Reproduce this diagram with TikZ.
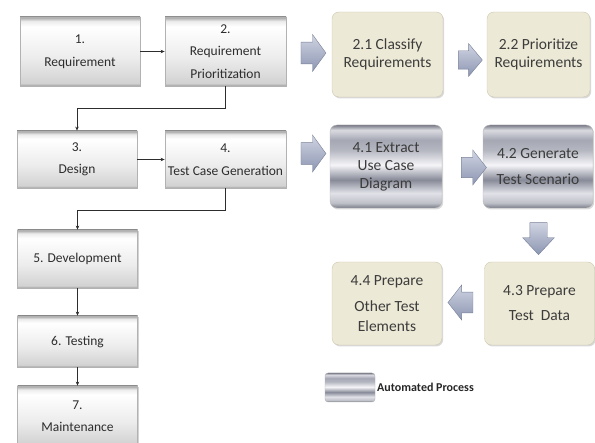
\documentclass[tikz,border=0pt]{standalone}
\usepackage{fontspec}
\setmainfont{Carlito}
\usetikzlibrary{shapes.arrows,shadows,arrows.meta}
\definecolor{txt}{RGB}{45,45,45}
\definecolor{rtxt}{RGB}{60,60,60}
\definecolor{beigefill}{RGB}{236,233,214}
\definecolor{beigeline}{RGB}{205,200,175}
\definecolor{lbA}{RGB}{160,160,160}
\definecolor{lbB}{RGB}{210,210,210}
\definecolor{lbC}{RGB}{236,236,236}
\definecolor{mA}{RGB}{120,122,135}
\definecolor{mB}{RGB}{190,192,200}
\definecolor{mC}{RGB}{225,226,232}
\definecolor{mD}{RGB}{135,138,152}
\definecolor{mE}{RGB}{245,245,248}
\definecolor{mF}{RGB}{180,182,192}
\definecolor{mG}{RGB}{165,167,180}
\definecolor{mH}{RGB}{218,219,225}
\definecolor{arD}{RGB}{140,150,178}
\definecolor{arL}{RGB}{208,212,226}
\definecolor{conn}{RGB}{45,45,45}
\pgfdeclareverticalshading{lboxshade}{100bp}{color(0bp)=(lbA); color(25bp)=(lbA); color(27bp)=(lbB); color(45bp)=(lbC); color(68bp)=(white); color(72bp)=(lbC); color(75bp)=(lbA); color(100bp)=(lbA)}
\pgfdeclareverticalshading{metal}{100bp}{color(0bp)=(mA); color(25bp)=(mA); color(28bp)=(mB); color(34bp)=(mC); color(42bp)=(mD); color(51bp)=(mE); color(60bp)=(mF); color(66bp)=(mG); color(72bp)=(mH); color(75bp)=(mA); color(100bp)=(mA)}
\tikzset{
  lbox/.style={rectangle, draw=gray!60, line width=0.8pt, shading=lboxshade,
    drop shadow={shadow xshift=1.2pt, shadow yshift=-1.5pt, opacity=0.35},
    align=center, text=txt, inner sep=0pt,
    font=\fontsize{13.5}{22.5}\selectfont},
  bbox/.style={rectangle, rounded corners=7pt, draw=beigeline, fill=beigefill,
    drop shadow={shadow xshift=1.2pt, shadow yshift=-1.5pt, opacity=0.3},
    align=center, text=rtxt, inner sep=0pt,
    font=\fontsize{15.5}{18}\selectfont},
  mbox/.style={rectangle, rounded corners=7pt, draw=gray!55, shading=metal,
    drop shadow={shadow xshift=1.2pt, shadow yshift=-1.5pt, opacity=0.3},
    align=center, text=rtxt, inner sep=0pt,
    font=\fontsize{15.5}{18}\selectfont},
  bigarrow/.style={single arrow, draw=arD!85!black, line width=0.4pt,
    top color=arL, bottom color=arD, inner xsep=0pt},
  conn/.style={draw=conn, line width=0.8pt, -{Stealth[length=4pt,width=3.5pt]}},
}
\begin{document}
\begin{tikzpicture}[x=1pt,y=-1pt]
\useasboundingbox (0,0) rectangle (595,443);
% left column
\node[lbox, minimum width=120pt, minimum height=69pt] (n1) at (80,51.5) {1.\\Requirement};
\node[lbox, minimum width=121pt, minimum height=69pt] (n2) at (225.5,51.5) {2.\\Requirement\\Prioritization};
\node[lbox, minimum width=120pt, minimum height=57pt] (n3) at (77,159.5) {3.\\Design};
\node[lbox, minimum width=121pt, minimum height=57pt] (n4) at (225.5,159.5) {4.\\Test Case Generation};
\node[lbox, minimum width=120pt, minimum height=58pt] (n5) at (77.5,259) {5. Development};
\node[lbox, minimum width=120pt, minimum height=51pt] (n6) at (77.5,341.5) {6. Testing};
\node[lbox, minimum width=120pt, minimum height=60pt] (n7) at (77.5,416) {7.\\Maintenance};
\draw[conn] (n1.east) -- (n2.west);
\draw[conn] (n3.east) -- (n4.west);
\draw[conn] (n2.south) -- ++(0,22) -| (n3.north);
\draw[conn] (n4.south) -- ++(0,22) -| (n5.north);
\draw[conn] (n5.south) -- (n6.north);
\draw[conn] (n6.south) -- (n7.north);
% right side
\node[bbox, minimum width=111pt, minimum height=85pt] (r21) at (387.5,54.5) {2.1 Classify\\Requirements};
\node[bbox, minimum width=103pt, minimum height=85pt] (r22) at (538.5,54.5) {2.2 Prioritize\\Requirements};
\node[mbox, minimum width=112pt, minimum height=83pt] (r41) at (386,166.5) {4.1 Extract\\Use Case\\Diagram};
\node[mbox, minimum width=110pt, minimum height=83pt] (r42) at (538,166.5) {4.2 Generate\\[8pt]Test Scenario};
\node[bbox, minimum width=110pt, minimum height=83pt] (r43) at (539.5,303.5) {4.3 Prepare\\[7pt]Test~~Data};
\node[bbox, minimum width=110pt, minimum height=83pt] (r44) at (387,303.5) {4.4 Prepare\\[8pt]Other Test\\[1.5pt]Elements};
% block arrows
\node[bigarrow, inner ysep=10pt, minimum height=25pt, minimum width=37pt, single arrow tip angle=108] (a1) at (309.5,53) {};
\node[bigarrow, inner ysep=9pt, minimum height=24pt, minimum width=31pt, single arrow tip angle=100] (a2) at (466.5,60) {};
\node[bigarrow, inner ysep=10pt, minimum height=25pt, minimum width=37pt, single arrow tip angle=108] (a3) at (309.5,153.5) {};
\node[bigarrow, inner ysep=9.5pt, minimum height=25pt, minimum width=35pt, single arrow tip angle=104] (a4) at (470,167.5) {};
\node[bigarrow, inner xsep=8.5pt, inner ysep=0pt, minimum height=32pt, minimum width=27pt, single arrow tip angle=86, shape border rotate=270] (a5) at (538.5,234) {};
\node[bigarrow, inner ysep=10pt, minimum height=25pt, minimum width=35pt, single arrow tip angle=104, shape border rotate=180] (a6) at (464.5,302.5) {};
% legend
\node[rectangle, rounded corners=3pt, draw=gray!60, shading=metal, minimum width=50pt, minimum height=29pt] (leg) at (350,387.5) {};
\node[anchor=west, inner sep=0pt, text=black!85, font=\bfseries\fontsize{12}{14}\selectfont] (legt) at (377,387.5) {Automated Process};
\end{tikzpicture}
\end{document}
